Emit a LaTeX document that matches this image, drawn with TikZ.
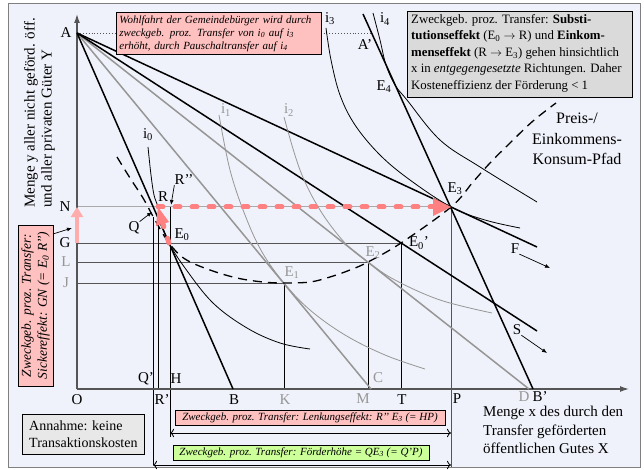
\documentclass[tikz,border=0pt]{standalone}
\usepackage{fontspec}
\setmainfont{Liberation Serif}
\usetikzlibrary{arrows.meta}
\definecolor{bgc}{RGB}{239,242,250}
\definecolor{pinkfill}{RGB}{255,192,192}
\definecolor{salm}{RGB}{255,128,128}
\definecolor{lsalm}{RGB}{255,172,172}
\definecolor{greenfill}{RGB}{204,255,153}
\definecolor{boxgray}{RGB}{218,218,218}
\definecolor{boxlgray}{RGB}{232,232,232}
\definecolor{lgray}{RGB}{150,150,150}
\definecolor{dgray}{RGB}{85,85,85}
\definecolor{ngray}{RGB}{170,170,170}
\begin{document}
\begin{tikzpicture}[x=1pt,y=-1pt,
  blk/.style={line width=1.5pt, black},
  gline/.style={line width=1.5pt, color=lgray},
  icurve/.style={line width=0.8pt, black},
  gcurve/.style={line width=0.8pt, color=lgray},
  hline/.style={line width=1pt, color=dgray},
  vline/.style={line width=0.9pt, black},
  lbl/.style={font=\fontsize{15}{17}\selectfont, inner sep=0pt},
  glbl/.style={lbl, text=lgray},
  pfad/.style={line width=1.3pt, dash pattern=on 9pt off 6pt},
  pinkdash/.style={color=salm, line width=5pt, line cap=round, dash pattern=on 5pt off 12pt},
  tagbox/.style={draw=black, line width=0.8pt, inner sep=2pt, font=\fontsize{11}{12}\selectfont\itshape},
  small arrow/.style={line width=0.7pt, -{Latex[length=5pt,width=4pt]}},
]
\fill[white] (0,0) rectangle (644,470);
\draw[fill=bgc, draw=gray, line width=0.8pt] (8,3) rectangle (640,467);
\useasboundingbox (0,0) rectangle (644,470);

% key points
\coordinate (A) at (77,33);
\coordinate (O) at (77,389);
\coordinate (Ytop) at (77,14);
\coordinate (Xend) at (629,389);
\coordinate (B) at (233,389);
\coordinate (C) at (371,389);
\coordinate (D) at (529,389);
\coordinate (Bp) at (533,389);
\coordinate (Ap) at (372,33);
\coordinate (Atop) at (363,14);
\coordinate (E0) at (169,243);
\coordinate (E1) at (284,283);
\coordinate (E2) at (368,262);
\coordinate (E0p) at (401,243);
\coordinate (E3) at (451,207);
\coordinate (R) at (158,207);
\coordinate (Rpp) at (170,207);
\coordinate (Q) at (153,217);
\coordinate (Fend) at (537,247);
\coordinate (Send) at (537,331);
\coordinate (N) at (77,207);
\coordinate (G) at (77,243);
\coordinate (L) at (77,262);
\coordinate (J) at (77,283);
\coordinate (Qbot) at (153,465);
\coordinate (Rp) at (158,389);
\coordinate (Hbot) at (170,437);
\coordinate (K) at (284,389);
\coordinate (M) at (368,389);
\coordinate (T) at (401,389);
\coordinate (Pbot) at (451,467);

% horizontal and vertical helper lines
\draw[line width=1pt, color=ngray] (N) -- (E3);
\draw[hline] (G) -- (E0p);
\draw[hline] (L) -- (E2);
\draw[hline] (J) -- (E1);
\draw[vline] (Q) -- (Qbot);
\draw[vline] (R) -- (Rp);
\draw[vline] (Rpp) -- (Hbot);
\draw[vline] (E1) -- (K);
\draw[vline] (E2) -- (M);
\draw[vline] (E0p) -- (T);
\draw[vline, color=dgray] (E3) -- (Pbot);

% axes
\draw[line width=1.3pt, color=dgray, -{Latex[length=9pt,width=6pt]}] (O) -- (Ytop);
\draw[line width=1.3pt, color=dgray, -{Latex[length=9pt,width=6pt]}] (O) -- (Xend);
\draw[dotted, line width=0.9pt, color=dgray] (A) -- (Ap);

% budget lines
\draw[gline] (A) -- (C);
\draw[gline] (A) -- (D);
\draw[blk] (A) -- (B);
\draw[blk] (A) -- (Send);
\draw[blk] (A) -- (Fend);
\draw[blk] (Atop) -- (Bp);

% indifference curves
\draw[icurve] plot[smooth, tension=0.6] coordinates {(148,147) (151,175) (154,195) (158,207) (162,225) (169,243) (185,268) (213,303) (247,328) (280,343) (310,349)};
\draw[gcurve] plot[smooth, tension=0.6] coordinates {(219,115) (230,170) (245,215) (262,252) (284,283) (310,310) (345,335) (385,355) (425,369)};
\draw[gcurve] plot[smooth, tension=0.6] coordinates {(284,117) (300,170) (320,210) (345,243) (368,262) (395,280) (440,300) (492,313)};
\draw[icurve] plot[smooth, tension=0.6] coordinates {(326,28) (331,60) (340,95) (355,125) (380,155) (410,180) (451,207) (485,220) (520,228)};
\draw[icurve] plot[smooth, tension=0.6] coordinates {(373,13) (380,40) (386,65) (395,85) (407,100) (440,140) (480,167) (537,202)};

% price-/income-consumption path
\draw[pfad] plot[smooth, tension=0.6] coordinates {(117,157) (130,178) (143,198) (155,220) (169,243) (185,259) (210,270) (237,278) (263,282) (284,283) (310,282) (330,277) (350,270) (368,262) (401,243) (451,207) (473,182) (490,163) (510,143) (533,121) (556,103)};

% pink arrows
\draw[pinkdash] (R) -- (436,207);
\fill[salm] (E3) -- (433,198) -- (433,216) -- cycle;
\draw[pinkdash] (E0) -- (163,224);
\fill[salm] (R) -- (156,226) -- (169,222) -- cycle;
\draw[color=lsalm, line width=4.5pt, -{Triangle[length=10pt,width=12pt]}] (G) -- (N);

% labels
\node[lbl] (lA) at (66,33) {A};
\node[lbl] (lAp) at (365,45) {A’};
\node[lbl] (li3) at (330,19) {i\textsubscript{3}};
\node[lbl] (li4) at (385,19) {i\textsubscript{4}};
\node[lbl] (li0) at (148,135) {i\textsubscript{0}};
\node[glbl] (li1) at (226,110) {i\textsubscript{1}};
\node[glbl] (li2) at (289,110) {i\textsubscript{2}};
\node[lbl] (lE4) at (384,87) {E\textsubscript{4}};
\node[lbl] (lR) at (163,197) {R};
\node[lbl] (lRpp) at (184,180) {R’’};
\node[lbl] (lQ) at (134,228) {Q};
\node[lbl] (lE0) at (182,235) {E\textsubscript{0}};
\node[glbl] (lE1) at (292,273) {E\textsubscript{1}};
\node[glbl] (lE2) at (373,253) {E\textsubscript{2}};
\node[lbl] (lE0p) at (419,243) {E\textsubscript{0}'};
\node[lbl] (lE3) at (455,189) {E\textsubscript{3}};
\node[lbl] (lF) at (515,249) {F};
\node[lbl] (lS) at (517,330) {S};
\node[lbl] (lN) at (65,207) {N};
\node[lbl] (lG) at (65,243) {G};
\node[glbl] (lL) at (66,262) {L};
\node[glbl] (lJ) at (66,283) {J};
\node[lbl] (lO) at (77,400) {O};
\node[lbl] (lQp) at (146,379) {Q’};
\node[lbl] (lH) at (176,379) {H};
\node[lbl] (lRp) at (162,400) {R’};
\node[lbl] (lB) at (234,400) {B};
\node[glbl] (lK) at (285,400) {K};
\node[glbl] (lM) at (363,399) {M};
\node[glbl] (lC) at (378,378) {C};
\node[lbl] (lT) at (402,400) {T};
\node[lbl] (lP) at (457,399) {P};
\node[glbl] (lD) at (524,397) {D};
\node[lbl] (lBp) at (540,397) {B’};

% label arrows
\draw[small arrow] (lQ.north east) -- (152,212);
\draw[small arrow] (lRpp.south west) -- (171,205);
\draw[small arrow] (lF.south east) -- (550,268);
\draw[small arrow] (lS.south east) -- (547,353);

% axis texts
\node[font=\fontsize{15}{17}\selectfont, rotate=90, anchor=south west, align=left, inner sep=0pt] (ylab) at (55,208) {Menge y aller nicht geförd. öff.\\und aller privaten Güter Y};
\node[font=\fontsize{15}{18.5}\selectfont, anchor=north west, align=left, inner sep=0pt] (xlab) at (483,406) {Menge x des durch den\\Transfer geförderten\\öffentlichen Gutes X};
\node[font=\fontsize{16}{20.5}\selectfont, align=center, inner sep=0pt] (pfadlab) at (577,139) {Preis-/\\Einkommens-\\Konsum-Pfad};

% boxes
\node[draw=black, line width=0.8pt, fill=pinkfill, anchor=north west, minimum width=205pt, minimum height=38pt, text width=199pt, align=left, inner sep=3pt, font=\fontsize{11}{13}\selectfont\itshape] (wohl) at (116,12) {Wohlfahrt der Gemeindebürger wird durch\\zweckgeb. proz. Transfer von i\textsubscript{0} auf i\textsubscript{3}\\erhöht, durch Pauschaltransfer auf i\textsubscript{4}};
\node[draw=black, line width=0.8pt, fill=boxgray, anchor=north west, minimum width=225pt, minimum height=86pt] (infobox) at (407,11) {};
\node[anchor=north west, align=left, inner sep=0pt, font=\fontsize{12.8}{16.5}\selectfont] (info) at (411,14) {Zweckgeb. proz. Transfer: \textbf{Substi-}\\\textbf{tutionseffekt} (E\textsubscript{0} $\rightarrow$ R) und \textbf{Einkom-}\\\textbf{menseffekt} (R $\rightarrow$ E\textsubscript{3}) gehen hinsichtlich\\x in \textit{entgegengesetzte} Richtungen. Daher\\Kosteneffizienz der Förderung < 1};
\node[draw=black, line width=0.8pt, fill=boxlgray, anchor=north west, minimum width=122pt, minimum height=40pt, align=left, inner sep=5pt, font=\fontsize{14}{17}\selectfont] (annahme) at (22,414) {Annahme: keine\\Transaktionskosten};
\node[draw=black, line width=0.8pt, fill=pinkfill, rotate=90, minimum width=161pt, minimum height=35pt, align=center, inner sep=1pt, font=\fontsize{13.5}{16}\selectfont\itshape] (sicker) at (35.5,305.5) {Zweckgeb. proz. Transfer:\\Sickereffekt: GN (= E\textsubscript{0} R’’)};
\draw[small arrow] (53,234) -- (72,228);
\node[tagbox, fill=pinkfill, minimum width=270pt, minimum height=15pt] (lenk) at (310,417.5) {Zweckgeb. proz. Transfer: Lenkungseffekt: R’’ E\textsubscript{3} (= HP)};
\node[tagbox, fill=greenfill, minimum width=256pt, minimum height=15pt] (foerd) at (301,452.5) {Zweckgeb. proz. Transfer: Förderhöhe = QE\textsubscript{3} (= Q’P)};

% measuring arrows
\coordinate (l1) at (170,433);
\coordinate (l2) at (451,433);
\coordinate (f1) at (153,465);
\coordinate (f2) at (451,465);
\draw[line width=0.8pt, {To[length=4pt]}-{To[length=4pt]}] (l1) -- (l2);
\draw[line width=0.8pt, {To[length=4pt]}-{To[length=4pt]}] (f1) -- (f2);
\end{tikzpicture}
\end{document}
